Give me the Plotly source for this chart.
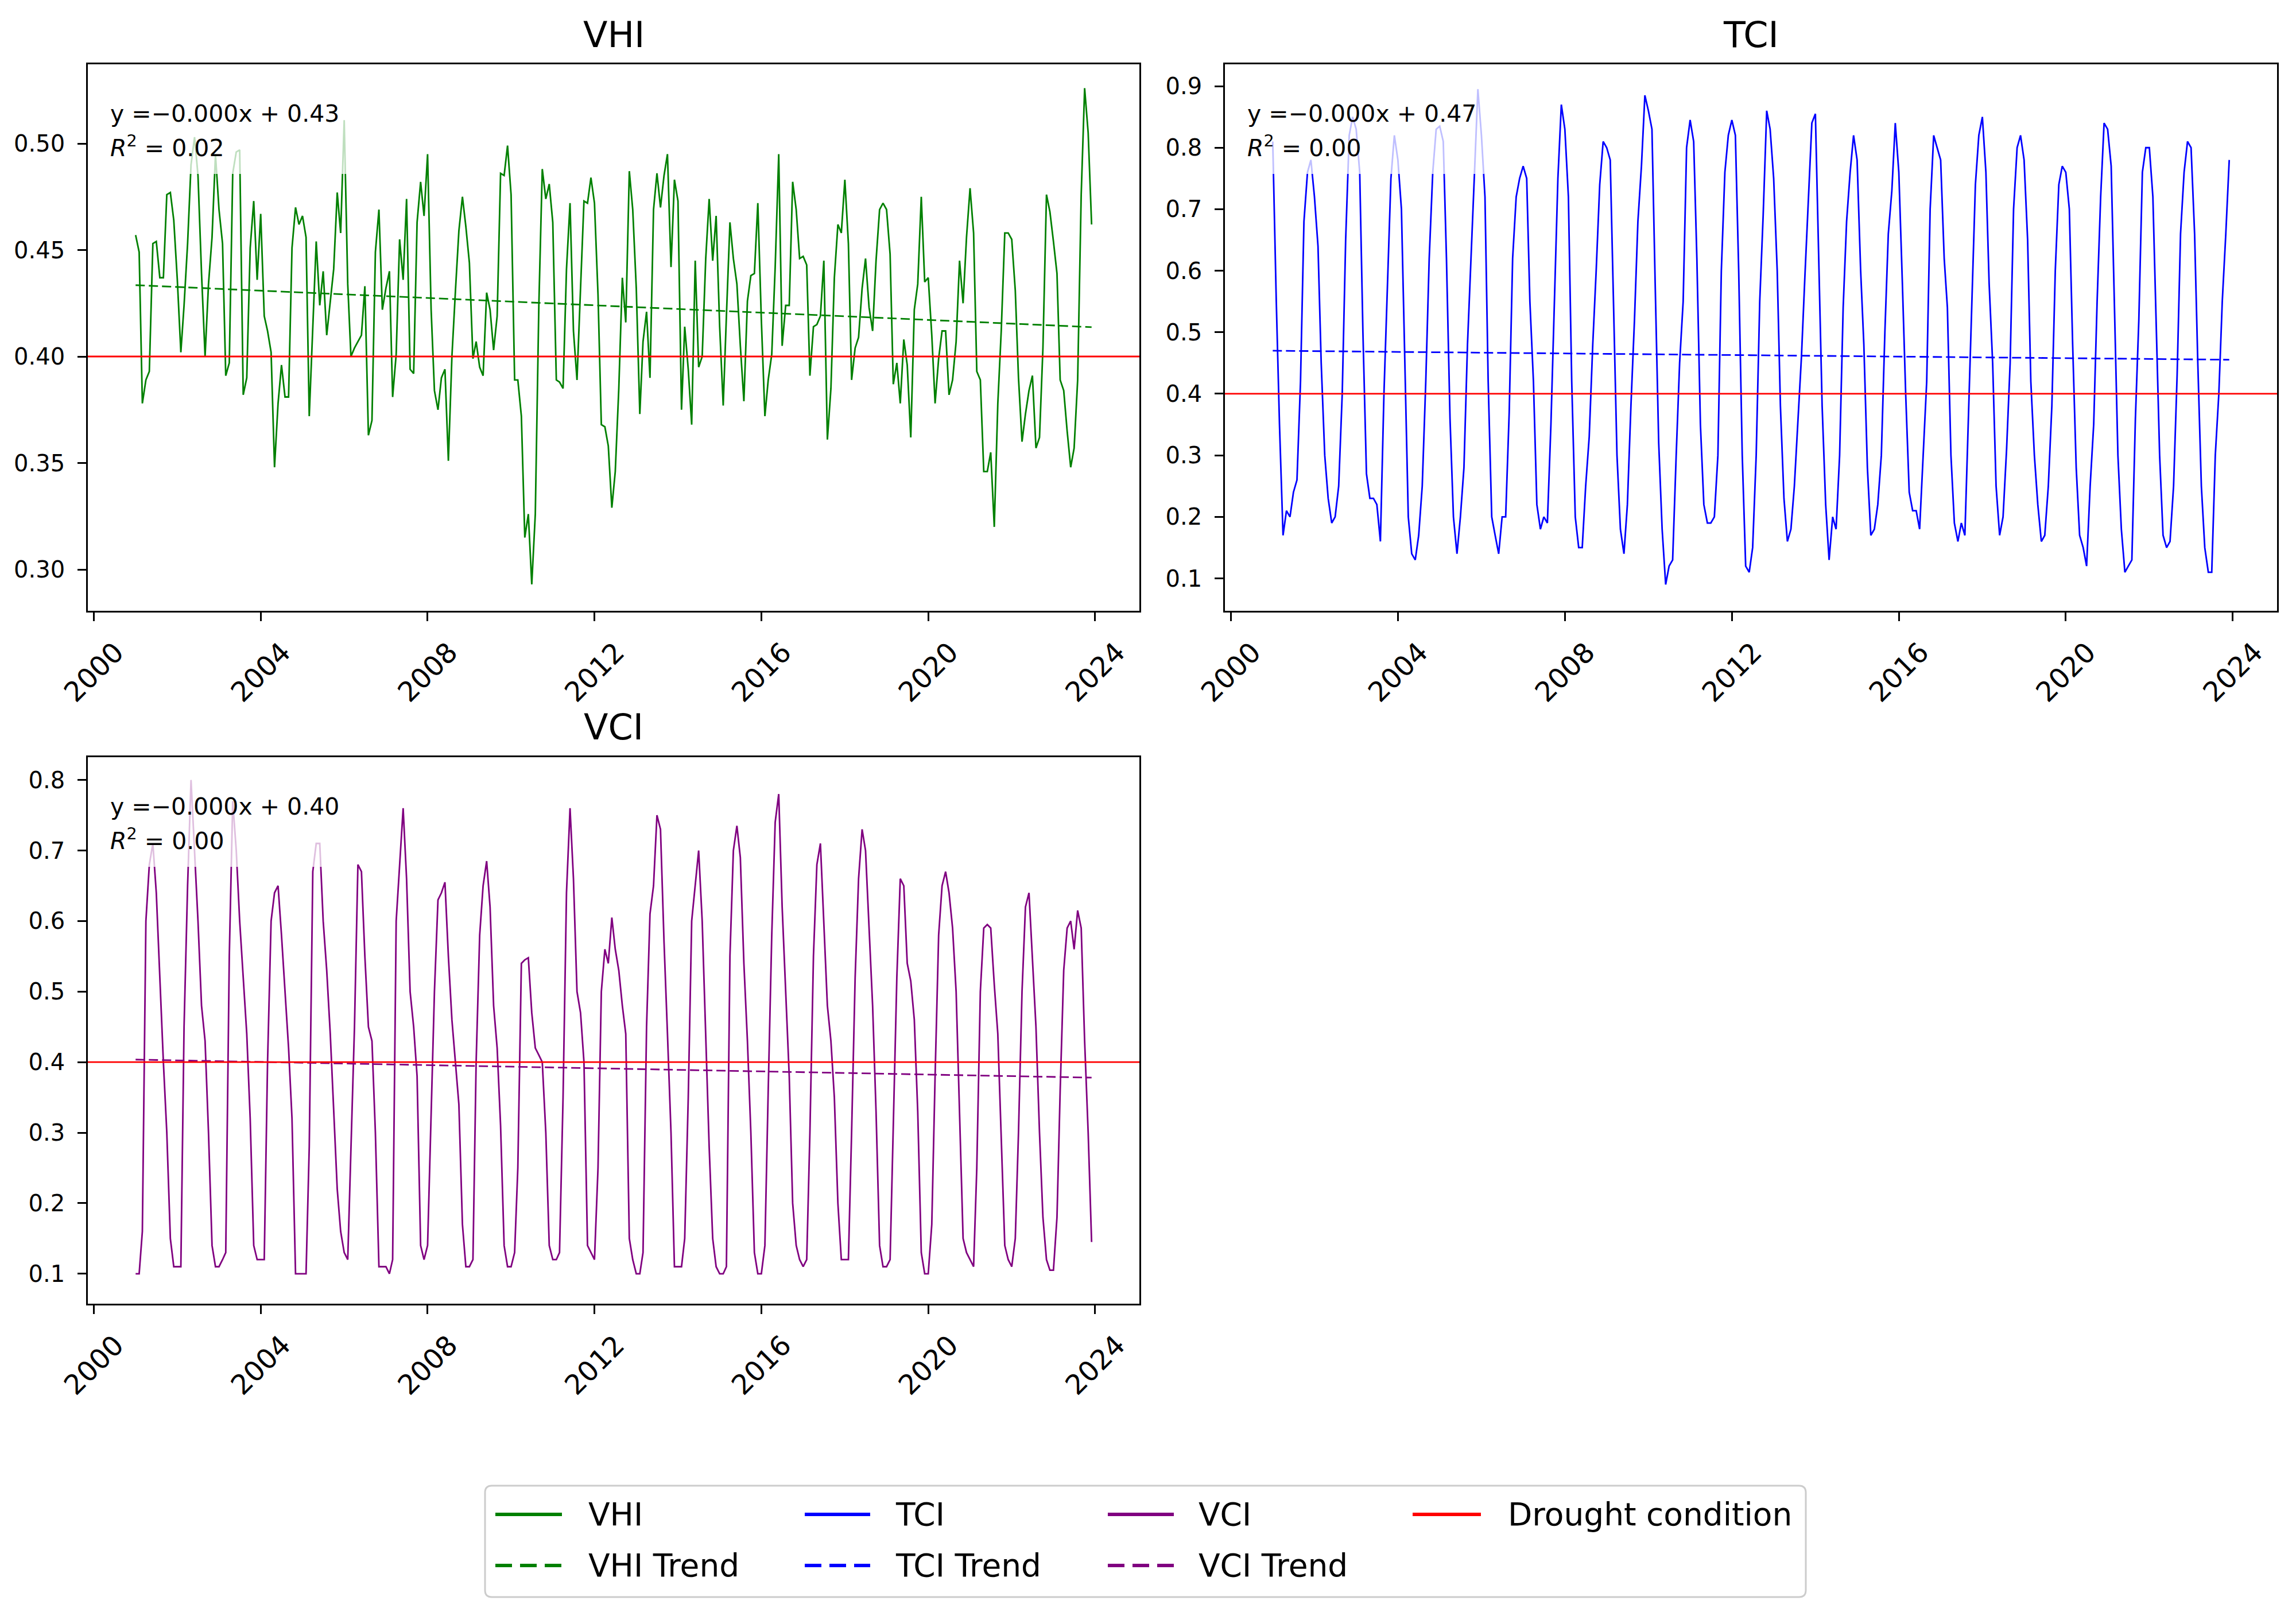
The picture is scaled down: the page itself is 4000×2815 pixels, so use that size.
import numpy as np
import pandas as pd
import plotly.graph_objects as go

# ---------------- data (monthly, Jan 2001 .. Dec 2023) ----------------
first_month = "2001-01-01"
n_months = 276
tick_years = [2000, 2004, 2008, 2012, 2016, 2020, 2024]
drought_threshold = 0.4

panel_names = ["VHI", "TCI", "VCI"]
trend_eq_text = ["y =\u22120.000x + 0.43", "y =\u22120.000x + 0.47", "y =\u22120.000x + 0.40"]
trend_r2_text = ["0.02", "0.00", "0.00"]
# dashed trend line levels (first month, last month)
trend_start = [0.4335, 0.470, 0.4036]
trend_end = [0.4138, 0.4554, 0.378]

vhi = [
    0.457, 0.449, 0.378, 0.389, 0.393, 0.453, 0.454, 0.437, 0.437, 0.476, 0.477, 0.464,  # 2001
    0.436, 0.402, 0.424, 0.453, 0.490, 0.503, 0.485, 0.439, 0.400, 0.434, 0.456, 0.495,  # 2002
    0.469, 0.453, 0.391, 0.397, 0.486, 0.496, 0.497, 0.382, 0.390, 0.451, 0.473, 0.436,  # 2003
    0.467, 0.419, 0.412, 0.402, 0.348, 0.378, 0.396, 0.381, 0.381, 0.451, 0.470, 0.462,  # 2004
    0.466, 0.456, 0.372, 0.414, 0.454, 0.424, 0.440, 0.410, 0.426, 0.441, 0.477, 0.458,  # 2005
    0.511, 0.434, 0.400, 0.404, 0.407, 0.410, 0.433, 0.363, 0.370, 0.449, 0.469, 0.422,  # 2006
    0.432, 0.440, 0.381, 0.401, 0.455, 0.436, 0.474, 0.394, 0.392, 0.463, 0.482, 0.466,  # 2007
    0.495, 0.422, 0.384, 0.375, 0.390, 0.394, 0.351, 0.400, 0.431, 0.459, 0.475, 0.461,  # 2008
    0.444, 0.399, 0.407, 0.395, 0.391, 0.430, 0.422, 0.403, 0.419, 0.486, 0.485, 0.499,  # 2009
    0.476, 0.389, 0.389, 0.372, 0.315, 0.326, 0.293, 0.326, 0.424, 0.488, 0.474, 0.481,  # 2010
    0.463, 0.389, 0.388, 0.385, 0.441, 0.472, 0.412, 0.389, 0.432, 0.473, 0.472, 0.484,  # 2011
    0.472, 0.429, 0.368, 0.367, 0.358, 0.329, 0.346, 0.385, 0.437, 0.416, 0.487, 0.469,  # 2012
    0.432, 0.373, 0.407, 0.421, 0.390, 0.469, 0.486, 0.470, 0.485, 0.495, 0.442, 0.483,  # 2013
    0.473, 0.375, 0.414, 0.394, 0.368, 0.445, 0.395, 0.400, 0.446, 0.474, 0.445, 0.466,  # 2014
    0.414, 0.377, 0.419, 0.463, 0.446, 0.434, 0.405, 0.379, 0.426, 0.438, 0.439, 0.472,  # 2015
    0.417, 0.372, 0.389, 0.401, 0.442, 0.495, 0.405, 0.424, 0.424, 0.482, 0.469, 0.446,  # 2016
    0.447, 0.443, 0.391, 0.414, 0.415, 0.419, 0.445, 0.361, 0.385, 0.437, 0.462, 0.458,  # 2017
    0.483, 0.453, 0.389, 0.404, 0.409, 0.432, 0.446, 0.423, 0.412, 0.445, 0.469, 0.472,  # 2018
    0.469, 0.448, 0.387, 0.397, 0.378, 0.408, 0.396, 0.362, 0.422, 0.434, 0.475, 0.435,  # 2019
    0.437, 0.410, 0.378, 0.399, 0.412, 0.412, 0.382, 0.389, 0.407, 0.445, 0.425, 0.456,  # 2020
    0.479, 0.458, 0.393, 0.389, 0.346, 0.346, 0.355, 0.320, 0.378, 0.412, 0.458, 0.458,  # 2021
    0.455, 0.431, 0.390, 0.360, 0.373, 0.384, 0.391, 0.357, 0.362, 0.404, 0.476, 0.468,  # 2022
    0.454, 0.439, 0.389, 0.384, 0.365, 0.348, 0.357, 0.389, 0.476, 0.526, 0.505, 0.462,  # 2023
]

tci = [
    0.81, 0.55, 0.35, 0.17, 0.21, 0.20, 0.24, 0.26, 0.42, 0.68, 0.76, 0.78,   # 2001
    0.72, 0.64, 0.45, 0.30, 0.23, 0.19, 0.20, 0.25, 0.40, 0.65, 0.82, 0.85,   # 2002
    0.83, 0.76, 0.50, 0.27, 0.23, 0.23, 0.22, 0.16, 0.40, 0.58, 0.75, 0.82,   # 2003
    0.78, 0.70, 0.45, 0.20, 0.14, 0.13, 0.17, 0.25, 0.42, 0.62, 0.76, 0.83,   # 2004
    0.835, 0.81, 0.62, 0.36, 0.20, 0.14, 0.20, 0.28, 0.48, 0.62, 0.76, 0.895, # 2005
    0.82, 0.72, 0.42, 0.20, 0.17, 0.14, 0.20, 0.20, 0.37, 0.62, 0.72, 0.75,   # 2006
    0.77, 0.75, 0.55, 0.42, 0.22, 0.18, 0.20, 0.19, 0.35, 0.55, 0.75, 0.87,   # 2007
    0.83, 0.72, 0.42, 0.20, 0.15, 0.15, 0.25, 0.33, 0.48, 0.60, 0.74, 0.81,   # 2008
    0.80, 0.78, 0.55, 0.30, 0.18, 0.14, 0.22, 0.38, 0.52, 0.68, 0.77, 0.885,  # 2009
    0.86, 0.83, 0.58, 0.32, 0.18, 0.09, 0.12, 0.13, 0.30, 0.45, 0.55, 0.80,   # 2010
    0.845, 0.81, 0.62, 0.35, 0.22, 0.19, 0.19, 0.20, 0.30, 0.60, 0.76, 0.82,  # 2011
    0.845, 0.82, 0.60, 0.30, 0.12, 0.11, 0.15, 0.30, 0.55, 0.69, 0.86, 0.83,  # 2012
    0.75, 0.60, 0.38, 0.23, 0.16, 0.18, 0.25, 0.36, 0.46, 0.59, 0.72, 0.84,   # 2013
    0.855, 0.62, 0.38, 0.22, 0.13, 0.20, 0.18, 0.30, 0.54, 0.68, 0.76, 0.82,  # 2014
    0.78, 0.60, 0.48, 0.28, 0.17, 0.18, 0.22, 0.30, 0.50, 0.66, 0.73, 0.84,   # 2015
    0.76, 0.58, 0.40, 0.24, 0.21, 0.21, 0.18, 0.30, 0.42, 0.70, 0.82, 0.80,   # 2016
    0.78, 0.62, 0.54, 0.30, 0.19, 0.16, 0.19, 0.17, 0.37, 0.55, 0.74, 0.82,   # 2017
    0.85, 0.76, 0.58, 0.45, 0.25, 0.17, 0.20, 0.31, 0.45, 0.70, 0.80, 0.82,   # 2018
    0.78, 0.65, 0.42, 0.30, 0.22, 0.16, 0.17, 0.25, 0.38, 0.60, 0.74, 0.77,   # 2019
    0.76, 0.70, 0.48, 0.28, 0.17, 0.15, 0.12, 0.25, 0.35, 0.55, 0.72, 0.84,   # 2020
    0.83, 0.77, 0.54, 0.30, 0.18, 0.11, 0.12, 0.13, 0.36, 0.52, 0.76, 0.80,   # 2021
    0.80, 0.72, 0.52, 0.30, 0.17, 0.15, 0.16, 0.25, 0.43, 0.66, 0.76, 0.81,   # 2022
    0.80, 0.66, 0.45, 0.25, 0.15, 0.11, 0.11, 0.30, 0.40, 0.55, 0.66, 0.78,   # 2023
]

vci = [
    0.10, 0.10, 0.16, 0.60, 0.68, 0.71, 0.64, 0.52, 0.40, 0.30, 0.15, 0.11,    # 2001
    0.11, 0.11, 0.45, 0.65, 0.80, 0.70, 0.60, 0.48, 0.43, 0.30, 0.14, 0.11,    # 2002
    0.11, 0.12, 0.13, 0.55, 0.77, 0.70, 0.60, 0.52, 0.44, 0.32, 0.14, 0.12,    # 2003
    0.12, 0.12, 0.40, 0.60, 0.64, 0.65, 0.58, 0.50, 0.42, 0.32, 0.10, 0.10,    # 2004
    0.10, 0.10, 0.28, 0.67, 0.71, 0.71, 0.60, 0.53, 0.44, 0.33, 0.22, 0.16,    # 2005
    0.13, 0.12, 0.28, 0.45, 0.68, 0.67, 0.55, 0.45, 0.43, 0.30, 0.11, 0.11,    # 2006
    0.11, 0.10, 0.12, 0.60, 0.68, 0.76, 0.66, 0.50, 0.45, 0.38, 0.14, 0.12,    # 2007
    0.14, 0.33, 0.50, 0.63, 0.64, 0.655, 0.55, 0.46, 0.40, 0.34, 0.17, 0.11,   # 2008
    0.11, 0.12, 0.40, 0.58, 0.65, 0.685, 0.62, 0.48, 0.42, 0.31, 0.14, 0.11,   # 2009
    0.11, 0.13, 0.25, 0.54, 0.545, 0.548, 0.47, 0.42, 0.41, 0.40, 0.30, 0.14, # 2010
    0.12, 0.12, 0.13, 0.35, 0.64, 0.76, 0.66, 0.50, 0.47, 0.40, 0.14, 0.13,    # 2011
    0.12, 0.25, 0.50, 0.56, 0.54, 0.605, 0.56, 0.53, 0.48, 0.44, 0.15, 0.12,   # 2012
    0.10, 0.10, 0.13, 0.45, 0.61, 0.65, 0.75, 0.73, 0.57, 0.44, 0.30, 0.11,    # 2013
    0.11, 0.11, 0.15, 0.35, 0.60, 0.65, 0.70, 0.60, 0.44, 0.28, 0.15, 0.11,    # 2014
    0.10, 0.10, 0.11, 0.55, 0.70, 0.735, 0.69, 0.54, 0.43, 0.30, 0.13, 0.10,   # 2015
    0.10, 0.14, 0.36, 0.58, 0.74, 0.78, 0.62, 0.50, 0.38, 0.20, 0.14, 0.12,    # 2016
    0.11, 0.12, 0.30, 0.55, 0.68, 0.71, 0.60, 0.48, 0.43, 0.35, 0.20, 0.12,    # 2017
    0.12, 0.12, 0.30, 0.52, 0.66, 0.73, 0.70, 0.59, 0.48, 0.33, 0.14, 0.11,    # 2018
    0.11, 0.12, 0.32, 0.52, 0.66, 0.65, 0.54, 0.515, 0.46, 0.33, 0.13, 0.10,   # 2019
    0.10, 0.17, 0.38, 0.58, 0.65, 0.67, 0.64, 0.59, 0.50, 0.33, 0.15, 0.13,    # 2020
    0.12, 0.11, 0.25, 0.50, 0.59, 0.595, 0.59, 0.51, 0.44, 0.30, 0.14, 0.12,   # 2021
    0.11, 0.15, 0.30, 0.50, 0.62, 0.64, 0.55, 0.45, 0.30, 0.18, 0.12, 0.105,   # 2022
    0.105, 0.18, 0.36, 0.53, 0.59, 0.60, 0.56, 0.615, 0.59, 0.43, 0.30, 0.145, # 2023
]

# ---------------- styling / layout ----------------
W, H = 4000, 2815
FONT = "DejaVu Sans"
colors = ["green", "blue", "purple"]
series = [vhi, tci, vci]
# panel boxes in page pixels: (left, right, top, bottom)
boxes = [(153, 1985, 112, 1064), (2134, 3967, 112, 1064), (153, 1985, 1319, 2271)]
y_ranges = [[0.2806, 0.5372], [0.0473, 0.9355], [0.0575, 0.8323]]
y_tickvals = [[0.30, 0.35, 0.40, 0.45, 0.50],
              [0.1, 0.2, 0.3, 0.4, 0.5, 0.6, 0.7, 0.8, 0.9],
              [0.1, 0.2, 0.3, 0.4, 0.5, 0.6, 0.7, 0.8]]
y_fmt = [".2f", ".1f", ".1f"]


def fx(p):
    return p / W


def fy(p):
    return 1 - p / H


dates = pd.date_range(first_month, periods=n_months, freq="MS")
pad = (dates[-1] - dates[0]) * 0.05
x_range = [dates[0] - pad, dates[-1] + pad]

fig = go.Figure()
layout = dict(
    width=W, height=H, autosize=False,
    margin=dict(l=0, r=0, t=0, b=0, pad=0, autoexpand=False),
    paper_bgcolor="white", plot_bgcolor="white",
    showlegend=False,
    font=dict(family=FONT, color="black"),
)
annotations = []
shapes = []

for i, name in enumerate(panel_names):
    sfx = "" if i == 0 else str(i + 1)
    xa, ya = "x" + sfx, "y" + sfx
    vals = np.array(series[i], dtype=float)

    fig.add_trace(go.Scatter(x=dates, y=vals, mode="lines", name=name,
                             line=dict(color=colors[i], width=2.8),
                             xaxis=xa, yaxis=ya))
    fig.add_trace(go.Scatter(x=[dates[0], dates[-1]], y=[trend_start[i], trend_end[i]],
                             mode="lines", name=name + " Trend",
                             line=dict(color=colors[i], width=2.8, dash="16px,7px"),
                             xaxis=xa, yaxis=ya))

    l, r, t, b = boxes[i]
    aw, ah = r - l, b - t
    layout["xaxis" + sfx] = dict(
        domain=[fx(l), fx(r)], anchor=ya, range=x_range, type="date", automargin=False,
        tickvals=[f"{yr}-01-01" for yr in tick_years],
        ticktext=[str(yr) for yr in tick_years],
        tickangle=-45, ticks="outside", ticklen=15, tickwidth=2.5, tickcolor="black",
        showline=True, linecolor="black", linewidth=2.8, mirror=True,
        showgrid=False, zeroline=False,
        tickfont=dict(size=48, family=FONT, color="black"),
        ticklabelshift=38, ticklabelstandoff=7,
    )
    layout["yaxis" + sfx] = dict(
        domain=[fy(b), fy(t)], anchor=xa, range=y_ranges[i], automargin=False,
        tickvals=y_tickvals[i], tickformat=y_fmt[i],
        ticks="outside", ticklen=15, tickwidth=2.5, tickcolor="black",
        showline=True, linecolor="black", linewidth=2.8, mirror=True,
        showgrid=False, zeroline=False,
        tickfont=dict(size=40, family=FONT, color="black"),
        ticklabelstandoff=14,
    )

    # drought threshold line
    shapes.append(dict(type="line", xref=xa + " domain", yref=ya, x0=0, x1=1,
                       y0=drought_threshold, y1=drought_threshold,
                       line=dict(color="red", width=2.8), layer="above"))

    # translucent box behind the regression text
    shapes.append(dict(type="rect", xref=xa + " domain", yref=ya + " domain",
                       x0=25 / aw, x1=452 / aw, y0=1 - 191 / ah, y1=1 - 35 / ah,
                       fillcolor="rgba(255,255,255,0.75)", line=dict(width=0), layer="above"))

    # panel title
    annotations.append(dict(text=name, xref=xa + " domain", x=0.5, yref="paper",
                            y=fy(t - 52), xanchor="center", yanchor="middle",
                            showarrow=False, font=dict(size=62, family=FONT, color="black")))
    # regression text (two lines)
    annotations.append(dict(text=trend_eq_text[i], xref=xa + " domain", yref=ya + " domain",
                            x=37 / aw, y=1 - 86 / ah, xanchor="left", yanchor="middle",
                            showarrow=False, font=dict(size=41, family=FONT, color="black")))
    annotations.append(dict(text="<i>R</i><sup>2</sup> = " + trend_r2_text[i],
                            xref=xa + " domain", yref=ya + " domain",
                            x=37 / aw, y=1 - 143 / ah, xanchor="left", yanchor="middle",
                            showarrow=False, font=dict(size=41, family=FONT, color="black")))

# ---------------- manual legend (matplotlib-style, 4 columns) ----------------
box_l, box_r, box_t, box_b, rad = 845, 3146, 2588, 2782, 12
path = (f"M{fx(box_l + rad)},{fy(box_t)} L{fx(box_r - rad)},{fy(box_t)} "
        f"Q{fx(box_r)},{fy(box_t)} {fx(box_r)},{fy(box_t + rad)} "
        f"L{fx(box_r)},{fy(box_b - rad)} Q{fx(box_r)},{fy(box_b)} {fx(box_r - rad)},{fy(box_b)} "
        f"L{fx(box_l + rad)},{fy(box_b)} Q{fx(box_l)},{fy(box_b)} {fx(box_l)},{fy(box_b - rad)} "
        f"L{fx(box_l)},{fy(box_t + rad)} Q{fx(box_l)},{fy(box_t)} {fx(box_l + rad)},{fy(box_t)} Z")
shapes.append(dict(type="path", xref="paper", yref="paper", path=path,
                   line=dict(color="rgb(204,204,204)", width=3), fillcolor="white", layer="above"))

legend_cols = [(863, 979, 1023), (1402, 1516, 1558), (1930, 2045, 2086), (2461, 2580, 2625)]
row_y = [2638, 2727]
legend_items = [
    (0, 0, "VHI", "green", "solid"), (1, 0, "TCI", "blue", "solid"),
    (2, 0, "VCI", "purple", "solid"), (3, 0, "Drought condition", "red", "solid"),
    (0, 1, "VHI Trend", "green", "dash"), (1, 1, "TCI Trend", "blue", "dash"),
    (2, 1, "VCI Trend", "purple", "dash"),
]
for col, row, label, colr, dash in legend_items:
    x0, x1, tx = legend_cols[col]
    yy = row_y[row]
    shapes.append(dict(type="line", xref="paper", yref="paper",
                       x0=fx(x0), x1=fx(x1), y0=fy(yy), y1=fy(yy), layer="above",
                       line=dict(color=colr, width=6,
                                 dash="solid" if dash == "solid" else "29px,14px")))
    annotations.append(dict(text=label, xref="paper", yref="paper", x=fx(tx), y=fy(yy),
                            xanchor="left", yanchor="middle", showarrow=False,
                            font=dict(size=55, family=FONT, color="black")))

layout["annotations"] = annotations
layout["shapes"] = shapes
fig.update_layout(**layout)

fig.write_html("out.html", config={"displayModeBar": False},
               post_script="document.body.style.margin='0px';")
